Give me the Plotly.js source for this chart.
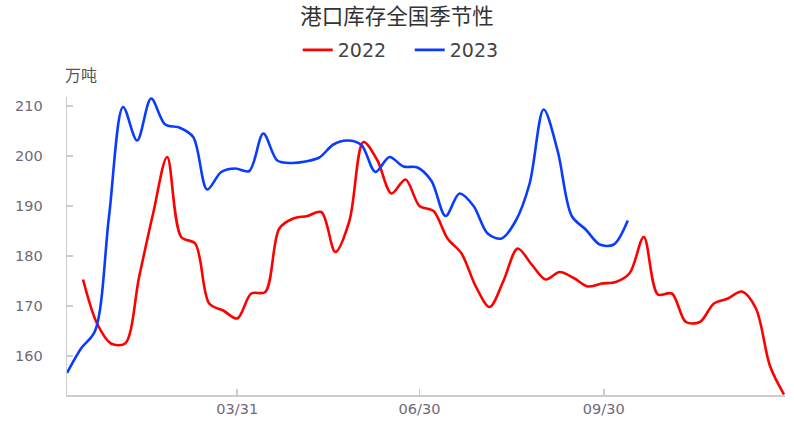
<!DOCTYPE html>
<html><head><meta charset="utf-8">
<script src="https://cdn.plot.ly/plotly-3.0.1.min.js"></script>
<style>html,body{margin:0;padding:0;background:#fff}#chart{width:794px;height:427px}</style>
</head><body><div id="chart"></div>
<script>
const chartTitle = '港口库存全国季节性';
const unitLabel = '万吨';
const seriesNames = ['2022', '2023'];

const dates2022 = ['2022-01-13','2022-01-20','2022-01-27','2022-02-03','2022-02-10','2022-02-17','2022-02-24',
  '2022-03-03','2022-03-10','2022-03-17','2022-03-24','2022-03-31','2022-04-07','2022-04-14','2022-04-21','2022-04-28',
  '2022-05-05','2022-05-12','2022-05-19','2022-05-26','2022-06-02','2022-06-09','2022-06-16','2022-06-23','2022-06-30',
  '2022-07-07','2022-07-14','2022-07-21','2022-07-28','2022-08-04','2022-08-11','2022-08-18','2022-08-25',
  '2022-09-01','2022-09-08','2022-09-15','2022-09-22','2022-09-29','2022-10-06','2022-10-13','2022-10-20','2022-10-27',
  '2022-11-03','2022-11-10','2022-11-17','2022-11-24','2022-12-01','2022-12-08','2022-12-15','2022-12-22','2022-12-29'];
const values2022 = [175.3,166.5,162.5,162.5,175.8,188.5,199.8,
  183.8,182.5,170.5,169.1,167.5,172.5,172.8,185.5,187.5,
  188.0,188.8,180.8,187.0,202.8,199.1,192.5,195.3,190.0,
  189.0,183.5,180.5,174.0,169.8,175.1,181.5,178.3,
  175.3,176.8,175.6,173.9,174.5,174.8,176.6,183.8,172.3,
  172.5,166.8,166.8,170.5,171.5,172.9,169.5,158.0,152.3];

const dates2023 = ['2023-01-05','2023-01-12','2023-01-19','2023-01-26','2023-02-02','2023-02-09','2023-02-16','2023-02-23',
  '2023-03-02','2023-03-09','2023-03-16','2023-03-23','2023-03-30','2023-04-06','2023-04-13','2023-04-20','2023-04-27',
  '2023-05-04','2023-05-11','2023-05-18','2023-05-25','2023-06-01','2023-06-08','2023-06-15','2023-06-22','2023-06-29',
  '2023-07-06','2023-07-13','2023-07-20','2023-07-27','2023-08-03','2023-08-10','2023-08-17','2023-08-24','2023-08-31',
  '2023-09-07','2023-09-14','2023-09-21','2023-09-28','2023-10-05','2023-10-12'];
const values2023 = [156.6,161.5,165.0,188.0,209.8,203.1,211.5,206.3,
  205.7,203.8,193.3,196.8,197.5,197.0,204.5,199.1,198.6,
  198.9,199.7,202.3,203.1,202.2,196.8,199.8,197.9,197.7,
  195.0,188.0,192.5,190.0,184.5,183.5,187.0,194.5,209.3,
  201.0,188.0,185.3,182.3,182.3,187.1];

const tickDates = ['2021-03-31','2021-06-30','2021-09-30'];
const tickLabels = ['03/31','06/30','09/30'];
const yTicks = [160,170,180,190,200,210];

// map every date onto one common (non-leap) season year
const toSeason = d => '2021' + d.slice(4);

const traces = [
  {x: dates2022.map(toSeason), y: values2022, name: seriesNames[0], type: 'scatter', mode: 'lines',
   line: {color: '#ff0000', width: 2.6, shape: 'spline', smoothing: 0.9}},
  {x: dates2023.map(toSeason), y: values2023, name: seriesNames[1], type: 'scatter', mode: 'lines',
   line: {color: '#0a3cff', width: 2.6, shape: 'spline', smoothing: 0.9}}
];

const axisGrey = '#cccccc';
const tickFont = {family: 'DejaVu Sans', size: 14.5, color: '#6e6a78'};

// y tick labels placed a fixed distance left of the axis line
const yLabelAnnotations = yTicks.map(v => ({
  text: String(v), xref: 'paper', yref: 'y', x: 0, y: v, xanchor: 'right', yanchor: 'middle',
  xshift: -22, showarrow: false, font: tickFont
}));

const layout = {
  width: 794, height: 427,
  margin: {l: 67, r: 9, t: 97, b: 32},
  paper_bgcolor: '#fff', plot_bgcolor: '#fff',
  title: {text: chartTitle, x: 0.5, xanchor: 'center', xref: 'container', y: 1 - 16/427, yref: 'container', yanchor: 'middle',
          font: {family: 'Noto Sans CJK SC', size: 21.5, color: '#333'}},
  showlegend: true,
  legend: {orientation: 'h', x: 0.516, xref: 'container', xanchor: 'center', y: 1 - 50/427, yref: 'container', yanchor: 'middle',
           font: {family: 'DejaVu Sans', size: 19, color: '#444'}, itemwidth: 30, entrywidth: 67, entrywidthmode: 'pixels'},
  xaxis: {type: 'date', range: ['2021-01-05', '2021-12-29 12:00'], tickvals: tickDates, ticktext: tickLabels,
          showgrid: false, zeroline: false, showline: true, linecolor: axisGrey, linewidth: 1.5,
          ticks: 'inside', ticklen: 6, tickcolor: axisGrey, tickwidth: 1.5,
          tickfont: tickFont, fixedrange: true},
  yaxis: {range: [152.2, 211.8], tickvals: yTicks, showticklabels: false,
          showgrid: false, zeroline: false, showline: true,
          linecolor: axisGrey, linewidth: 1.5,
          ticks: 'inside', ticklen: 6, tickcolor: axisGrey, tickwidth: 1.5, fixedrange: true},
  annotations: [{text: unitLabel, xref: 'paper', yref: 'paper', x: 0, y: 1, xanchor: 'left', yanchor: 'middle',
                 xshift: -4, yshift: 23, showarrow: false, font: {family: 'Noto Sans CJK SC', size: 16, color: '#555'}}]
                 .concat(yLabelAnnotations),
  hovermode: false
};

Plotly.newPlot('chart', traces, layout, {displayModeBar: false, staticPlot: true});
</script></body></html>
